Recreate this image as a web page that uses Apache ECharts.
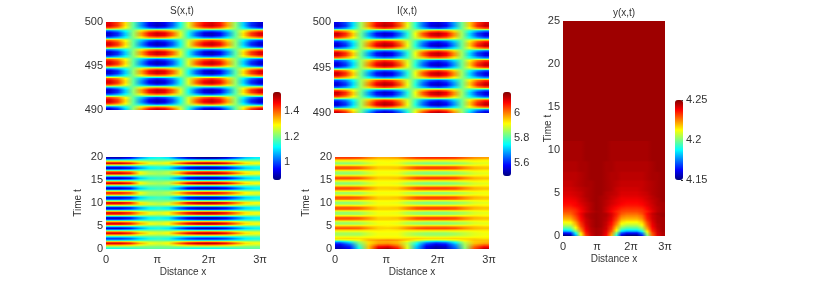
<!DOCTYPE html>
<html><head><meta charset="utf-8">
<style>html,body{margin:0;padding:0;background:#fff}#c{width:814px;height:286px;filter:blur(.4px)}</style>
<script src="https://cdn.jsdelivr.net/npm/echarts@6/dist/echarts.min.js"></script>
</head><body><div id="c"></div>
<script>
const xTickLabels=['0','π','2π','3π'];
const sRange=[0.86,1.55], iRange=[5.5,6.17], yRange=[4.15,4.25];
const sTicks=[1,1.2,1.4], iTicks=[5.6,5.8,6], yTicks=[4.15,4.2,4.25];
// Rows run from the lowest time upward, columns from x=0 to x=3pi. The panels repeat the same few bands.
const s0=[1.48,1.42,1.31,1.18,1.05,.95,.91,.94,1.01,1.13,1.27,1.39,1.46,1.49,1.45,1.35,1.22,1.09,.98,.92];
const s1=[1.49,1.43,1.31,1.18,1.04,.94,.90,.92,1.01,1.13,1.27,1.40,1.48,1.50,1.46,1.36,1.22,1.09,.97,.91];
const s2=[1.38,1.34,1.27,1.18,1.10,1.04,1.01,1.03,1.08,1.16,1.24,1.32,1.37,1.39,1.36,1.30,1.22,1.13,1.06,1.02];
const s3=[1.02,1.06,1.13,1.21,1.30,1.36,1.39,1.37,1.32,1.24,1.16,1.08,1.03,1.02,1.04,1.10,1.19,1.27,1.34,1.38];
const s4=[.91,.97,1.09,1.22,1.36,1.46,1.50,1.48,1.40,1.27,1.13,1.01,.92,.90,.94,1.04,1.18,1.31,1.43,1.49];
const s5=[.92,.98,1.09,1.22,1.35,1.45,1.49,1.47,1.39,1.27,1.13,1.01,.93,.91,.95,1.05,1.18,1.31,1.42,1.48];
const s6=[1.04,1.08,1.14,1.21,1.28,1.34,1.36,1.35,1.30,1.24,1.16,1.10,1.05,1.04,1.06,1.12,1.19,1.26,1.32,1.36];
const s7=[1.40,1.36,1.28,1.18,1.09,1.02,.99,1.01,1.06,1.15,1.25,1.34,1.39,1.41,1.38,1.31,1.22,1.12,1.04,1.00];
const sTop=[s4,s3,s2,s1,s0,s7,s6,s5,s4,s3,s2,s1,s0,s7,s6,s5,s4,s3,s2,s1,s0,s7,s6,s5,s4,s3,s2,s1,s0,s7,s6,s5,s4,s3,s2,s1,s0];

const i0=[5.57,5.63,5.73,5.86,5.99,6.08,6.12,6.10,6.02,5.90,5.78,5.66,5.58,5.56,5.60,5.69,5.82,5.95,6.05,6.11];
const i1=[5.55,5.61,5.73,5.86,6.00,6.10,6.14,6.12,6.04,5.91,5.77,5.65,5.56,5.54,5.58,5.68,5.82,5.95,6.07,6.13];
const i2=[5.66,5.70,5.77,5.86,5.94,6.00,6.03,6.01,5.96,5.88,5.80,5.72,5.67,5.65,5.68,5.74,5.82,5.91,5.98,6.02];
const i3=[6.02,5.98,5.91,5.83,5.74,5.68,5.66,5.67,5.72,5.80,5.88,5.96,6.01,6.03,6.00,5.94,5.85,5.77,5.70,5.66];
const i4=[6.12,6.06,5.95,5.82,5.69,5.59,5.55,5.57,5.65,5.77,5.91,6.03,6.11,6.13,6.09,5.99,5.86,5.73,5.62,5.56];
const i5=[6.11,6.05,5.95,5.82,5.69,5.60,5.56,5.58,5.66,5.78,5.90,6.02,6.10,6.12,6.08,5.99,5.86,5.73,5.63,5.57];
const i6=[6.00,5.96,5.90,5.83,5.76,5.70,5.68,5.69,5.74,5.80,5.88,5.94,5.99,6.00,5.98,5.92,5.85,5.78,5.72,5.68];
const i7=[5.64,5.68,5.76,5.86,5.95,6.02,6.05,6.03,5.98,5.89,5.79,5.70,5.65,5.63,5.66,5.73,5.82,5.92,6.00,6.04];
const iTop=[i4,i3,i2,i1,i0,i7,i6,i5,i4,i3,i2,i1,i0,i7,i6,i5,i4,i3,i2,i1,i0,i7,i6,i5,i4,i3,i2,i1,i0,i7,i6,i5,i4,i3,i2,i1,i0];

const sp4=[1.50,1.50,1.46,1.36,1.29,1.27,1.30,1.40,1.48,1.52,1.53,1.52,1.48,1.40,1.32,1.29];
const sp3=[1.43,1.43,1.40,1.32,1.27,1.25,1.28,1.35,1.41,1.44,1.45,1.44,1.41,1.35,1.29,1.27];
const sp2=[1.35,1.35,1.33,1.28,1.25,1.24,1.25,1.30,1.34,1.36,1.37,1.36,1.34,1.30,1.26,1.25];
const sp1=[1.28,1.28,1.27,1.24,1.22,1.22,1.23,1.25,1.27,1.28,1.28,1.28,1.27,1.25,1.23,1.22];
const sz0=[1.20,1.20,1.20,1.20,1.20,1.20,1.20,1.20,1.20,1.20,1.20,1.20,1.20,1.20,1.20,1.20];
const sn1=[1.13,1.13,1.14,1.16,1.18,1.18,1.18,1.15,1.13,1.12,1.12,1.12,1.13,1.15,1.17,1.18];
const sn2=[1.05,1.05,1.07,1.12,1.16,1.17,1.15,1.10,1.06,1.04,1.04,1.04,1.06,1.10,1.14,1.16];
const sn3=[.98,.98,1.01,1.08,1.13,1.15,1.13,1.05,.99,.96,.95,.96,.99,1.05,1.11,1.13];
const sn4=[.90,.90,.94,1.04,1.11,1.13,1.10,1.00,.92,.88,.87,.88,.92,1.00,1.08,1.11];
const sq4=[1.50,1.50,1.46,1.30,1.25,1.23,1.25,1.36,1.48,1.52,1.53,1.52,1.48,1.40,1.32,1.29];
const sq3=[1.43,1.43,1.40,1.28,1.23,1.22,1.24,1.33,1.41,1.44,1.45,1.44,1.41,1.35,1.29,1.27];
const sq1=[1.28,1.28,1.27,1.23,1.21,1.21,1.21,1.24,1.27,1.28,1.28,1.28,1.27,1.25,1.23,1.22];
const sr1=[1.13,1.13,1.14,1.17,1.19,1.19,1.19,1.16,1.13,1.12,1.12,1.12,1.13,1.15,1.17,1.18];
const sr3=[.98,.98,1.01,1.11,1.16,1.17,1.16,1.08,.99,.96,.95,.96,.99,1.05,1.11,1.13];
const sr4=[.90,.90,.94,1.08,1.14,1.16,1.14,1.04,.92,.88,.87,.88,.92,1.00,1.08,1.11];
const sBottom=[sn1,sz0,sp2,sp4,sp2,sn2,sn3,sn1,sp2,sp4,sp2,sn2,sn4,sn1,sp3,sp4,sp1,sn3,sn4,sn1,sp3,sp4,sp1,sn3,sn4,sz0,sp3,sq4,sz0,sr3,sr4,sz0,sq3,sq3,sz0,sr4,sr3,sz0,sq4,sq3,sr1,sr4,sr3,sq1,sq4,sq3,sr1,sn4,sn3,sp1,sp4,sp2,sn1,sn4];

const ie0=[5.53,5.58,5.76,5.96,6.12,6.15,6.08,5.90,5.70,5.56,5.52,5.54,5.64,5.84,6.04,6.13];
const ie1=[5.55,5.60,5.78,5.96,6.08,6.10,6.04,5.90,5.71,5.57,5.53,5.55,5.66,5.85,6.02,6.08];
const ie2=[5.57,5.63,5.80,5.95,6.03,6.04,6.00,5.89,5.73,5.60,5.56,5.58,5.68,5.86,5.99,6.03];
const ie3=[5.61,5.68,5.83,5.94,5.98,5.99,5.97,5.88,5.76,5.64,5.60,5.62,5.72,5.87,5.96,5.98];
const ie4=[5.70,5.76,5.86,5.94,5.97,5.97,5.96,5.90,5.82,5.73,5.69,5.71,5.79,5.89,5.95,5.96];
const ie5=[5.88,5.90,5.92,5.97,5.99,6.00,5.99,5.96,5.92,5.89,5.88,5.89,5.91,5.94,5.96,5.96];
const ip4=[6.04,6.04,6.03,5.99,5.95,5.95,5.96,6.00,6.04,6.05,6.05,6.05,6.04,6.00,5.97,5.96];
const ip3=[6.02,6.02,6.01,5.98,5.95,5.95,5.95,5.99,6.02,6.03,6.03,6.03,6.02,5.99,5.96,5.95];
const ip2=[5.97,5.97,5.97,5.95,5.94,5.93,5.94,5.96,5.97,5.98,5.98,5.98,5.97,5.96,5.95,5.94];
const ip1=[5.95,5.95,5.94,5.94,5.93,5.93,5.93,5.94,5.95,5.95,5.95,5.95,5.95,5.94,5.94,5.93];
const in1=[5.90,5.90,5.90,5.91,5.92,5.92,5.92,5.90,5.90,5.89,5.89,5.89,5.90,5.90,5.91,5.92];
const in2=[5.88,5.88,5.88,5.90,5.91,5.92,5.91,5.89,5.88,5.87,5.87,5.87,5.88,5.89,5.91,5.91];
const in3=[5.86,5.86,5.86,5.89,5.91,5.91,5.91,5.88,5.86,5.85,5.85,5.85,5.86,5.88,5.90,5.91];
const in4=[5.84,5.84,5.85,5.88,5.91,5.91,5.90,5.86,5.84,5.83,5.83,5.83,5.84,5.86,5.89,5.90];
const iTopEdge=[6.05,6.05,6.04,6.00,5.97,5.97,5.98,6.02,6.05,6.06,6.06,6.06,6.05,6.02,5.99,5.98];
const iBottom=[ie0,ie1,ie2,ie3,ie4,ie5,ip1,in1,in3,in3,in1,ip2,ip4,ip2,in2,in4,in1,ip3,ip4,ip1,in3,in4,in1,ip3,ip4,ip1,in3,in4,in1,ip3,ip4,ip1,in3,in3,ip1,ip4,ip3,in1,in4,in3,ip1,ip4,ip3,in1,in4,in3,ip1,ip4,ip3,in1,in4,in2,ip1,iTopEdge];

// y panel: fine rows for t in 0..11, one flat cell above
const y6=[4.241,4.241,4.242,4.243,4.245,4.246,4.247,4.247,4.245,4.244,4.243,4.241,4.241,4.241,4.241,4.242,4.243,4.245,4.246,4.247];
const y5=[4.242,4.242,4.243,4.244,4.245,4.246,4.247,4.247,4.246,4.245,4.243,4.242,4.242,4.242,4.242,4.243,4.244,4.245,4.246,4.247];
const y4=[4.243,4.243,4.244,4.245,4.246,4.246,4.247,4.247,4.246,4.245,4.244,4.243,4.243,4.243,4.243,4.243,4.244,4.245,4.246,4.247];
const y3=[4.244,4.244,4.244,4.245,4.246,4.247,4.247,4.247,4.246,4.245,4.245,4.244,4.244,4.244,4.244,4.244,4.245,4.246,4.246,4.247];
const y2=[4.245,4.245,4.245,4.246,4.246,4.247,4.247,4.247,4.246,4.246,4.245,4.245,4.245,4.245,4.245,4.245,4.245,4.246,4.247,4.247];
const y1=[4.246,4.246,4.246,4.246,4.247,4.247,4.247,4.247,4.247,4.246,4.246,4.246,4.246,4.246,4.246,4.246,4.246,4.247,4.247,4.247];
const yLower=[
[4.150,4.153,4.179,4.210,4.232,4.242,4.246,4.244,4.237,4.220,4.191,4.158,4.150,4.150,4.150,4.165,4.200,4.228,4.240,4.245],
[4.164,4.166,4.189,4.215,4.235,4.243,4.246,4.245,4.239,4.224,4.199,4.171,4.164,4.164,4.164,4.176,4.207,4.230,4.241,4.245],
[4.181,4.183,4.201,4.222,4.237,4.244,4.246,4.245,4.240,4.229,4.209,4.186,4.181,4.181,4.181,4.191,4.215,4.234,4.242,4.246],
[4.193,4.195,4.209,4.226,4.239,4.244,4.246,4.245,4.242,4.232,4.216,4.197,4.193,4.193,4.193,4.201,4.221,4.236,4.243,4.246],
[4.201,4.202,4.215,4.230,4.240,4.245,4.247,4.246,4.242,4.234,4.220,4.205,4.201,4.201,4.201,4.208,4.225,4.238,4.244,4.246],
[4.207,4.208,4.219,4.232,4.241,4.245,4.247,4.246,4.243,4.236,4.224,4.210,4.207,4.207,4.207,4.213,4.228,4.239,4.244,4.246],
[4.212,4.213,4.222,4.234,4.242,4.245,4.247,4.246,4.243,4.237,4.227,4.215,4.212,4.212,4.212,4.217,4.230,4.240,4.245,4.246],
[4.217,4.218,4.226,4.236,4.242,4.245,4.247,4.246,4.244,4.239,4.230,4.219,4.217,4.217,4.217,4.221,4.233,4.241,4.245,4.246],
[4.221,4.222,4.229,4.237,4.243,4.246,4.247,4.246,4.244,4.240,4.232,4.223,4.221,4.221,4.221,4.225,4.235,4.242,4.245,4.246],
[4.224,4.225,4.231,4.238,4.244,4.246,4.247,4.246,4.245,4.241,4.234,4.226,4.224,4.224,4.224,4.227,4.236,4.242,4.245,4.247],
[4.227,4.228,4.233,4.239,4.244,4.246,4.247,4.246,4.245,4.241,4.235,4.229,4.227,4.227,4.227,4.230,4.237,4.243,4.246,4.247],
[4.230,4.230,4.233,4.237,4.241,4.244,4.246,4.246,4.242,4.238,4.234,4.231,4.230,4.230,4.230,4.232,4.235,4.240,4.244,4.246],
[4.232,4.232,4.234,4.238,4.242,4.245,4.247,4.246,4.243,4.239,4.236,4.233,4.232,4.232,4.232,4.233,4.237,4.241,4.244,4.246],
[4.234,4.234,4.236,4.239,4.242,4.245,4.247,4.246,4.243,4.240,4.237,4.235,4.234,4.234,4.234,4.235,4.238,4.242,4.244,4.246],
[4.236,4.236,4.238,4.240,4.243,4.245,4.247,4.246,4.244,4.241,4.239,4.237,4.236,4.236,4.236,4.237,4.240,4.242,4.245,4.246],
[4.237,4.237,4.238,4.241,4.243,4.245,4.247,4.246,4.244,4.242,4.240,4.238,4.237,4.237,4.237,4.238,4.240,4.243,4.245,4.246],
[4.238,4.238,4.239,4.242,4.244,4.246,4.247,4.246,4.244,4.242,4.240,4.239,4.238,4.238,4.238,4.239,4.241,4.243,4.245,4.247],
[4.239,4.239,4.240,4.242,4.244,4.246,4.247,4.246,4.245,4.243,4.241,4.239,4.239,4.239,4.239,4.240,4.242,4.244,4.245,4.247],
[4.240,4.240,4.241,4.243,4.245,4.246,4.247,4.246,4.245,4.243,4.242,4.240,4.240,4.240,4.240,4.241,4.242,4.244,4.246,4.247],
y6,y6,y5,y5,y4,y4,y4,y3,y3,y3,y3,y2,y2,y2,y2,y2,y1,y1,y1,y1,y1,y1,y1,y1,y1];
const yUpper=[[4.247]];

const jet=['#00007f','#0000ff','#007fff','#00ffff','#7fff7f','#ffff00','#ff7f00','#ff0000','#7f0000'];
const jetRgb=jet.map(h=>[1,3,5].map(k=>parseInt(h.substr(k,2),16)));
function jetColor(v,r){
  const p=Math.max(0,Math.min(1,(v-r[0])/(r[1]-r[0])))*8, i=Math.min(7,Math.floor(p)), f=p-i;
  const c=jetRgb[i].map((a,k)=>Math.round(a+(jetRgb[i+1][k]-a)*f));
  return `rgb(${c[0]},${c[1]},${c[2]})`;
}
const FONT='"Liberation Sans",Arial,sans-serif', TXT='#333', FS=11, FSN=10;
const grid=[],xAxis=[],yAxis=[],series=[];
const hide={show:false};
const STRIPS=3;
// one custom series per surface: every row is drawn through the axes, shaded like MATLAB's "shading interp"
function addSurface(g,m,range,tLo,tHi){
  const nr=m.length, nc=m[0].length, dt=(tHi-tLo)/nr;
  series.push({type:'custom',xAxisIndex:g,yAxisIndex:g,silent:true,animation:false,clip:true,progressive:0,
    data:m.map((_,i)=>[0,tLo+i*dt]),
    renderItem(params,api){
      const i=params.dataIndex;
      const p0=api.coord([0,tLo+i*dt]), p1=api.coord([3,tLo+(i+1)*dt]);
      const children=[], h=(p0[1]-p1[1])/STRIPS;
      for(let s=0;s<STRIPS;s++){
        const u=Math.max(0,Math.min(nr-1,i+(s+.5)/STRIPS-.5)), a=Math.floor(u), b=Math.min(nr-1,a+1), w=u-a;
        const stops=[];
        for(let j=0;j<nc;j++){
          stops.push({offset:(j+.5)/nc,color:jetColor(m[a][j]*(1-w)+m[b][j]*w,range)});
        }
        stops.unshift({offset:0,color:stops[0].color});
        stops.push({offset:1,color:stops[stops.length-1].color});
        children.push({type:'rect',shape:{x:p0[0],y:p0[1]-h*(s+1)-.4,width:p1[0]-p0[0],height:h+.8},
          style:{fill:new echarts.graphic.LinearGradient(0,0,1,0,stops)}});
      }
      return {type:'group',children};
    }});
}
function addPanel(box,o){
  const g=grid.length; grid.push(box);
  const lab={color:TXT,fontFamily:FONT,fontSize:FS}, nam={color:TXT,fontFamily:FONT,fontSize:FSN};
  xAxis.push({type:'value',gridIndex:g,min:0,max:3,interval:1,show:!!o.xname,
    axisLine:hide,axisTick:hide,splitLine:hide,nameMoveOverlap:false,
    axisLabel:{...lab,margin:5,showMinLabel:true,showMaxLabel:true,formatter:v=>xTickLabels[v]},
    name:o.xname||'',nameLocation:'middle',nameGap:o.xgap||18,nameTextStyle:nam});
  yAxis.push({type:'value',gridIndex:g,min:o.ymin,max:o.ymax,interval:o.yint,
    axisLine:hide,axisTick:hide,splitLine:hide,nameMoveOverlap:false,
    axisLabel:{...lab,margin:3,showMinLabel:true,showMaxLabel:true},
    name:o.yname||'',nameLocation:'middle',nameGap:o.ygap||20,nameTextStyle:nam});
  return g;
}
function addBar(box,range,ticks){
  const g=grid.length; grid.push(box);
  xAxis.push({type:'value',gridIndex:g,show:false,min:0,max:1});
  yAxis.push({type:'value',gridIndex:g,min:range[0],max:range[1],position:'right',
    axisLine:hide,splitLine:hide,
    axisTick:{show:true,inside:true,length:2,customValues:ticks,lineStyle:{color:'#333'}},
    axisLabel:{color:TXT,fontFamily:FONT,fontSize:FS,margin:2,customValues:ticks,formatter:v=>String(v)}});
}
const a=addPanel({left:106,top:22,width:157,height:88},{ymin:490,ymax:500,yint:5});
addSurface(a,sTop,sRange,490,500);
const b=addPanel({left:106,top:157,width:154,height:92},{xname:'Distance x',ymin:0,ymax:20,yint:5,yname:'Time t',ygap:23});
addSurface(b,sBottom,sRange,0,20);
const c=addPanel({left:334,top:22,width:155,height:91},{ymin:490,ymax:500,yint:5});
addSurface(c,iTop,iRange,490,500);
const d=addPanel({left:335,top:157,width:154,height:92},{xname:'Distance x',ymin:0,ymax:20,yint:5,yname:'Time t',ygap:24});
addSurface(d,iBottom,iRange,0,20);
const e=addPanel({left:563,top:21,width:102,height:215},{xname:'Distance x',ymin:0,ymax:25,yint:5,yname:'Time t',ygap:10});
addSurface(e,yUpper,yRange,11,25);
addSurface(e,yLower,yRange,0,11);

addBar({left:281,top:92,width:1,height:88},sRange,sTicks);
addBar({left:511,top:92,width:1,height:84},iRange,iTicks);
addBar({left:683,top:100,width:1,height:80},yRange,yTicks);

function vm(range,left,top,h){
  return {type:'continuous',seriesIndex:[],min:range[0],max:range[1],calculable:false,realtime:false,hoverLink:false,
    inRange:{color:jet},orient:'vertical',left,top,itemWidth:8,itemHeight:h,padding:0,text:null,silent:true};
}
const title=[['S(x,t)',177,1],['I(x,t)',402,1],['y(x,t)',619,3]].map(([text,left,top])=>({
  text,left,top,textAlign:'center',textStyle:{color:TXT,fontFamily:FONT,fontSize:FSN,fontWeight:'normal'}}));

const chart=echarts.init(document.getElementById('c'),null,{renderer:'canvas'});
chart.setOption({animation:false,backgroundColor:'#fff',title,grid,xAxis,yAxis,series,
  visualMap:[vm(sRange,273,92,88),vm(iRange,503,92,84),vm(yRange,675,100,80)]});
</script></body></html>
